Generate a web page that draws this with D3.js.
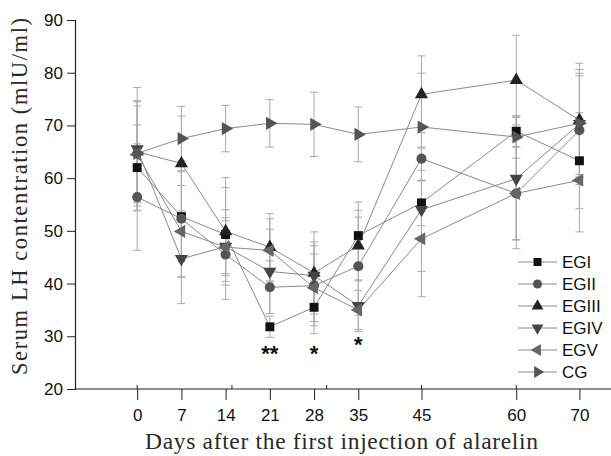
<!DOCTYPE html>
<html>
<head>
<meta charset="utf-8">
<script src="https://cdn.jsdelivr.net/npm/d3@7"></script>
<style>
  body { margin: 0; background: #fff; }
</style>
</head>
<body>
<div id="chart"></div>
<script>
// values

const days = [0, 7, 14, 21, 28, 35, 45, 60, 70];

const EGI   = [62.0, 52.7, 49.3, 31.8, 35.5, 49.1, 55.3, 68.9, 63.3];
const EGII  = [56.4, 52.3, 45.5, 39.3, 39.6, 43.3, 63.7, 57.1, 69.1];
const EGIII = [65.0, 62.8, 49.9, 46.9, 42.0, 47.2, 75.9, 78.6, 71.0];
const EGIV  = [65.5, 44.7, 47.0, 42.3, 41.5, 35.8, 54.0, 59.9, 70.3];
const EGV   = [64.5, 49.9, 46.9, 46.3, 39.2, 35.0, 48.5, 57.1, 59.6];
const CG    = [64.7, 67.5, 69.4, 70.4, 70.2, 68.3, 69.7, 67.8, 70.4];

// error bar half-lengths
const sdEGI   = [8.1, 8.5, 8.9, 2.0, 5.0, 6.4, 4.3, 2.9, 9.1];
const sdEGII  = [10.1, 11.0, 8.5, 5.0, 7.6, 9.3, 2.2, 10.5, 10.3];
const sdEGIII = [9.5, 9.0, 10.2, 6.4, 7.8, 6.7, 7.3, 8.5, 10.8];
const sdEGIV  = [11.7, 8.5, 5.5, 8.0, 6.4, 4.9, 11.7, 11.6, 9.6];
const sdEGV   = [9.2, 8.7, 5.0, 6.0, 6.4, 3.7, 11.0, 8.8, 9.8];
const sdCG    = [10.0, 6.1, 4.4, 4.5, 6.1, 5.2, 10.2, 4.0, 10.2];

const yTicks = [20, 30, 40, 50, 60, 70, 80, 90];

// significance marks: [day, label]
const stars = [[21, "**"], [28, "*"], [35, "*"]];

const series = [
  { name: "EGI",   values: EGI,   sd: sdEGI,   shape: d3.symbolSquare,   rotate: 0,   color: "#111", size: 80 },
  { name: "EGII",  values: EGII,  sd: sdEGII,  shape: d3.symbolCircle,   rotate: 0,   color: "#555", size: 80 },
  { name: "EGIII", values: EGIII, sd: sdEGIII, shape: d3.symbolTriangle, rotate: 0,   color: "#222", size: 75 },
  { name: "EGIV",  values: EGIV,  sd: sdEGIV,  shape: d3.symbolTriangle, rotate: 180, color: "#444", size: 75 },
  { name: "EGV",   values: EGV,   sd: sdEGV,   shape: d3.symbolTriangle, rotate: -90, color: "#666", size: 75 },
  { name: "CG",    values: CG,    sd: sdCG,    shape: d3.symbolTriangle, rotate: 90,  color: "#555", size: 75 }
];

// dimensions

const W = 611, H = 456;
const margin = { top: 20, right: 0, bottom: 67, left: 75 };

const svg = d3.select("#chart")
  .append("svg")
    .attr("width", W)
    .attr("height", H);

const x = d3.scaleLinear()
  .domain([-10, 75])
  .range([margin.left - 1, W]);

const y = d3.scaleLinear()
  .domain([20, 90])
  .range([H - margin.bottom, margin.top]);

// axes

const yAxis = svg.append("g")
  .attr("transform", `translate(${margin.left},0)`)
  .call(d3.axisLeft(y).tickValues(yTicks).tickSize(8).tickPadding(4));

const xAxis = svg.append("g")
  .attr("transform", `translate(0,${y(20)})`)
  .call(d3.axisBottom(x).tickValues(days).tickSize(11).tickPadding(9).tickSizeOuter(0));

// small inside ticks on the x axis
svg.append("g")
  .selectAll("line")
  .data([0, 15, 30, 45, 60])
  .join("line")
    .attr("x1", d => x(d))
    .attr("x2", d => x(d))
    .attr("y1", y(20))
    .attr("y2", y(20) - 4)
    .attr("stroke", "#222");

[yAxis, xAxis].forEach(g => {
  g.select(".domain").attr("stroke", "#222").attr("stroke-width", 1.2);
  g.selectAll(".tick line").attr("stroke", "#222");
  g.selectAll(".tick text")
    .attr("fill", "#111")
    .style("font-family", "'Liberation Sans', Arial, sans-serif")
    .style("font-size", "17px");
});
xAxis.select(".domain").attr("d", `M${margin.left},0H${W}`);

// titles

svg.append("text")
  .attr("x", 145)
  .attr("y", 449)
  .attr("textLength", 393)
  .attr("lengthAdjust", "spacing")
  .style("font-family", "'Liberation Serif', 'DejaVu Serif', serif")
  .style("font-size", "23.5px")
  .attr("fill", "#2a2a2a")
  .text("Days after the first injection of alarelin");

svg.append("text")
  .attr("transform", `translate(27,375) rotate(-90)`)
  .attr("textLength", 357)
  .attr("lengthAdjust", "spacing")
  .style("font-family", "'Liberation Serif', 'DejaVu Serif', serif")
  .style("font-size", "22.5px")
  .attr("fill", "#2a2a2a")
  .text("Serum LH contentration (mlU/ml)");

// error bars

const capW = 4;
const bars = svg.append("g").attr("stroke", "#aaa").attr("stroke-width", 1);

series.forEach(s => {
  s.values.forEach((v, i) => {
    const cx = x(days[i]);
    const top = y(v + s.sd[i]);
    const bot = y(v - s.sd[i]);
    bars.append("line").attr("x1", cx).attr("x2", cx).attr("y1", top).attr("y2", bot);
    bars.append("line").attr("x1", cx - capW).attr("x2", cx + capW).attr("y1", top).attr("y2", top);
    bars.append("line").attr("x1", cx - capW).attr("x2", cx + capW).attr("y1", bot).attr("y2", bot);
  });
});

// lines

const line = d3.line()
  .x((d, i) => x(days[i]))
  .y(d => y(d));

series.forEach(s => {
  svg.append("path")
    .datum(s.values)
    .attr("fill", "none")
    .attr("stroke", "#8a8a8a")
    .attr("stroke-width", 1)
    .attr("d", line);
});

// markers

series.forEach(s => {
  const sym = d3.symbol().type(s.shape).size(s.size);
  svg.append("g")
    .selectAll("path")
    .data(s.values)
    .join("path")
      .attr("d", sym)
      .attr("transform", (d, i) => `translate(${x(days[i])},${y(d)}) rotate(${s.rotate})`)
      .attr("fill", s.color);
});

// stars

svg.append("g")
  .selectAll("text")
  .data(stars)
  .join("text")
    .attr("x", d => x(d[0]))
    .attr("y", d => d[0] === 35 ? 352 : 360.5)
    .attr("text-anchor", "middle")
    .style("font-family", "'Liberation Sans', Arial, sans-serif")
    .style("font-size", "22px")
    .style("font-weight", "bold")
    .attr("fill", "#111")
    .text(d => d[1]);

// legend

const legend = svg.append("g").attr("transform", "translate(518,262)");

series.forEach((s, i) => {
  const row = legend.append("g").attr("transform", `translate(0,${i * 22})`);
  row.append("line")
    .attr("x1", 0).attr("x2", 39)
    .attr("stroke", "#8a8a8a");
  row.append("path")
    .attr("d", d3.symbol().type(s.shape).size(s.size * 0.8))
    .attr("transform", `translate(19.5,0) rotate(${s.rotate})`)
    .attr("fill", s.color);
  row.append("text")
    .attr("x", 44)
    .attr("dy", "0.35em")
    .style("font-family", "'Liberation Sans', Arial, sans-serif")
    .style("font-size", "17px")
    .attr("fill", "#111")
    .text(s.name);
});
</script>
</body>
</html>
